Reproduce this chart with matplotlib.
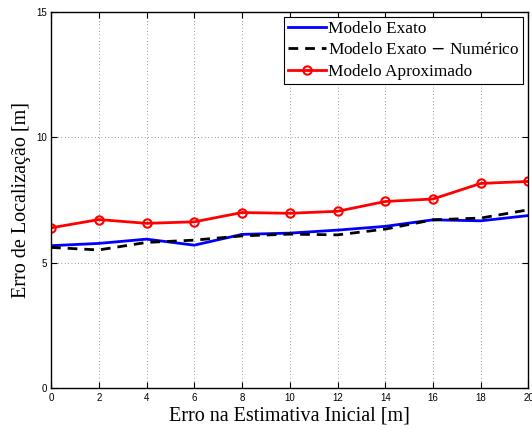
import numpy as np
import matplotlib.pyplot as plt

# erro na estimativa inicial [m]
erro_inicial = [0, 2, 4, 6, 8, 10, 12, 14, 16, 18, 20]

# erro de localizacao [m]
modelo_exato = [5.69, 5.78, 5.95, 5.71, 6.14, 6.19, 6.31, 6.46, 6.72, 6.68, 6.89]
exato_numerico = [5.62, 5.52, 5.82, 5.91, 6.08, 6.15, 6.12, 6.35, 6.72, 6.79, 7.12]
modelo_aprox = [6.40, 6.73, 6.58, 6.64, 7.01, 6.98, 7.06, 7.45, 7.55, 8.17, 8.25]

xticks = np.arange(0, 21, 2)
yticks = [0, 5, 10, 15]

plt.rcParams["font.family"] = ["Liberation Serif", "DejaVu Serif"]

fig = plt.figure(figsize=(5.32, 4.28), dpi=100)
ax = fig.add_axes([0.0959, 0.0923, 0.8975, 0.8797])

ax.plot(erro_inicial, modelo_exato, color="#0000ff", linewidth=2.0, label="Modelo Exato")
ax.plot(erro_inicial, exato_numerico, color="black", linestyle="--", linewidth=2.0,
        dashes=(3.5, 2.5), label="Modelo Exato $-$ Numérico")
ax.plot(erro_inicial, modelo_aprox, color="#ff0000", linewidth=2.0, marker="o",
        markersize=6, markerfacecolor="none", markeredgewidth=1.5,
        label="Modelo Aproximado")

ax.set_xlim(0, 20)
ax.set_ylim(0, 15)
ax.set_xticks(xticks)
ax.set_yticks(yticks)
ax.tick_params(direction="in", top=True, right=True, length=4, width=0.8)
for lbl in ax.get_xticklabels() + ax.get_yticklabels():
    lbl.set_family(["Liberation Sans", "DejaVu Sans"])
    lbl.set_fontsize(7)
ax.tick_params(axis="x", pad=3)
ax.tick_params(axis="y", pad=3)

ax.grid(True, linestyle=(0, (1, 3)), color="#777777", linewidth=0.6)
for s in ax.spines.values():
    s.set_linewidth(1.0)

ax.set_xlabel("Erro na Estimativa Inicial [m]", fontsize=14.5, labelpad=3)
ax.set_ylabel("Erro de Localização [m]", fontsize=14.5, labelpad=4)

leg = ax.legend(loc="upper right", fontsize=12.4, fancybox=False, edgecolor="black",
                framealpha=1, borderaxespad=0.3, handlelength=2.2, handletextpad=0.15,
                borderpad=0.2, labelspacing=0.33)
leg.get_frame().set_linewidth(0.8)

fig.savefig("out.png", dpi=100)
